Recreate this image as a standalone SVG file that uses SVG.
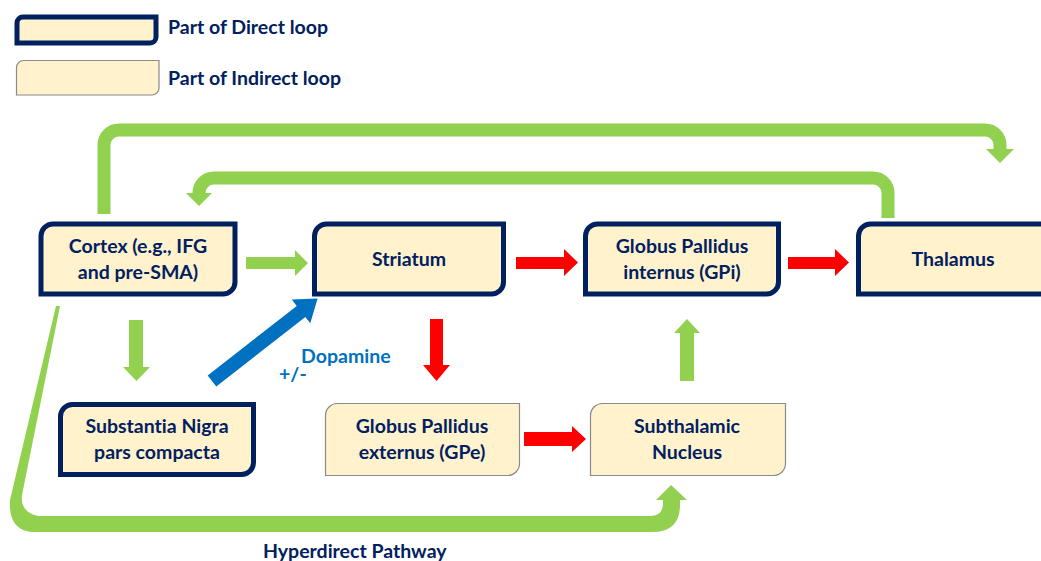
<svg xmlns="http://www.w3.org/2000/svg" width="1041" height="561" viewBox="0 0 1041 561">
<style>
.direct{fill:#FFF2CC;stroke:#002060;stroke-width:5}
.indirect{fill:#FFF2CC;stroke:#8a8a8a;stroke-width:1.2}
text{font-family:Lato,"Liberation Sans",sans-serif;font-weight:bold;font-size:19.5px;font-variant-ligatures:none}
.t{fill:#002060;text-anchor:middle}
.lg{fill:#002060}
.bt{fill:#0070C0}
.green{fill:#92D050}
.red{fill:#FF0000}
.blue{fill:#0070C0}
.gl{fill:none;stroke:#92D050;stroke-width:13}
</style>
<rect width="1041" height="561" fill="#ffffff"/>
<g id="legend">
<path class="direct" d="M23 17 H156 V37 A6 6 0 0 1 150 43 H17 V23 A6 6 0 0 1 23 17 Z"/>
<text class="lg" x="168" y="34">Part of Direct loop</text>
<path class="indirect" d="M23.5 60.5 H159 V88 A7 7 0 0 1 152 95 H16.5 V67.5 A7 7 0 0 1 23.5 60.5 Z"/>
<text class="lg" x="168" y="85">Part of Indirect loop</text>
</g>
<g id="connectors">
<path class="gl" d="M104 214 V145 A15 15 0 0 1 119 130 H985 A15 15 0 0 1 1000 145 V150"/>
<polygon class="green" points="986,149 1014,149 1000,163"/>
<path class="gl" d="M888 218 V193 A15 15 0 0 0 873 178 H214 A15 15 0 0 0 199 193 V194"/>
<polygon class="green" points="186,193 212,193 199,206"/>
<path class="green" d="M56 306 L60 306 L22 495 Q20 512 38 516 H650 Q663 516 663 503 V500 H656 L671 485 L687 500 H680 V505 Q680 532 652 532 H35 Q8 532 10 500 Z"/>
<polygon class="green" points="246,257 295,257 295,250 308,263 295,276 295,269 246,269"/>
<polygon class="red" points="516,257 564,257 564,249 578,262.5 564,276 564,269 516,269"/>
<polygon class="red" points="788,257 835,257 835,249 849,262.5 835,276 835,269 788,269"/>
<polygon class="green" points="129,320 143,320 143,367 150,367 136.5,381 123,367 129,367"/>
<polygon class="red" points="430,319 443,319 443,365 450,365 436.5,381 423,365 430,365"/>
<polygon class="red" points="524,432 572,432 572,426 586,439 572,452 572,446 524,446"/>
<polygon class="green" points="680,381 694,381 694,333 700,333 687,319 674,333 680,333"/>
<g transform="translate(212,381) rotate(-38)">
<polygon class="blue" points="0,-7 113,-7 113,-15 134,0 113,15 113,7 0,7"/>
</g>
<text class="bt" x="301" y="363">Dopamine</text>
<text class="bt" x="279" y="381">+/-</text>
<text class="lg" x="263" y="558">Hyperdirect Pathway</text>
</g>
<g id="cortex">
<path class="direct" d="M53 224 H235 V282 A12 12 0 0 1 223 294 H41 V236 A12 12 0 0 1 53 224 Z"/>
<text class="t" x="138" y="253">Cortex (e.g., IFG</text>
<text class="t" x="138" y="279">and pre-SMA)</text>
</g>
<g id="striatum">
<path class="direct" d="M326.5 224 H503.5 V282 A12 12 0 0 1 491.5 294 H314.5 V236 A12 12 0 0 1 326.5 224 Z"/>
<text class="t" x="409" y="266">Striatum</text>
</g>
<g id="gpi">
<path class="direct" d="M597.5 224 H778.5 V282 A12 12 0 0 1 766.5 294 H585.5 V236 A12 12 0 0 1 597.5 224 Z"/>
<text class="t" x="682" y="253">Globus Pallidus</text>
<text class="t" x="682" y="279">internus (GPi)</text>
</g>
<g id="thalamus">
<path class="direct" d="M870.5 224 H1060 V282 A12 12 0 0 1 1048 294 H858.5 V236 A12 12 0 0 1 870.5 224 Z"/>
<text class="t" x="953" y="266">Thalamus</text>
</g>
<g id="snc">
<path class="direct" d="M72.5 404.5 H253.5 V462.5 A12 12 0 0 1 241.5 474.5 H60.5 V416.5 A12 12 0 0 1 72.5 404.5 Z"/>
<text class="t" x="157" y="433">Substantia Nigra</text>
<text class="t" x="157" y="459">pars compacta</text>
</g>
<g id="gpe">
<path class="indirect" d="M337.5 403.5 H519.5 V463.5 A12 12 0 0 1 507.5 475.5 H325.5 V415.5 A12 12 0 0 1 337.5 403.5 Z"/>
<text class="t" x="422" y="433">Globus Pallidus</text>
<text class="t" x="422" y="459">externus (GPe)</text>
</g>
<g id="stn">
<path class="indirect" d="M602.5 403.5 H785.5 V463.5 A12 12 0 0 1 773.5 475.5 H590.5 V415.5 A12 12 0 0 1 602.5 403.5 Z"/>
<text class="t" x="687" y="433">Subthalamic</text>
<text class="t" x="687" y="459">Nucleus</text>
</g>
</svg>
